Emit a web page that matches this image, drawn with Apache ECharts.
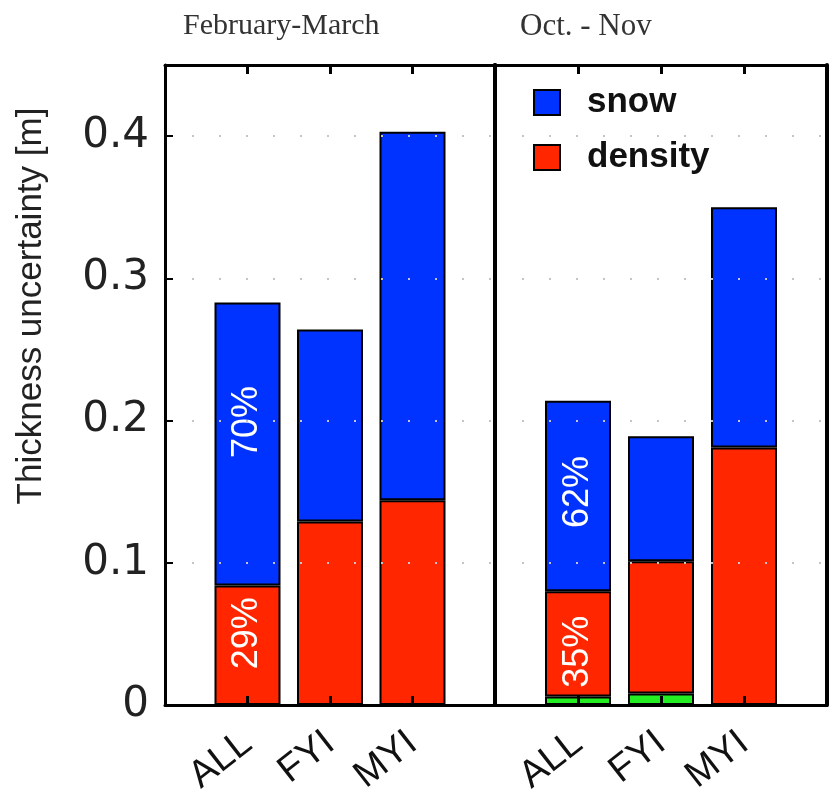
<!DOCTYPE html>
<html>
<head>
<meta charset="utf-8">
<script src="https://cdn.jsdelivr.net/npm/echarts@6/dist/echarts.min.js"></script>
<style>
html,body{margin:0;padding:0;background:#fff;}
#chart{width:839px;height:798px;}
</style>
</head>
<body>
<div id="chart"></div>
<script>
// ---- data ----
const categories = ['ALL', 'FYI', 'MYI'];
const periods = ['February-March', 'Oct. - Nov'];
const yTicks = [0, 0.1, 0.2, 0.3, 0.4];
// February-March segments (m)
const densityFM = [0.084, 0.129, 0.144];
const snowFM = [0.199, 0.135, 0.259];
// Oct.-Nov segments (m)
const otherON = [0.006, 0.008, 0];
const densityON = [0.074, 0.093, 0.181];
const snowON = [0.134, 0.088, 0.169];
// percentage annotations (ALL column)
const pctFM = { snow: '70%', density: '29%' };
const pctON = { snow: '62%', density: '35%' };

// ---- helpers ----
const axisCats = [''].concat(categories, ['']);
const BLUE = '#0033FF', RED = '#FF2600', GREEN = '#22EE22';

function pad(arr, labelIdx, labelText, shift) {
  const out = ['-'];
  arr.forEach((v, i) => {
    if (!v) { out.push('-'); return; }
    if (i === labelIdx && labelText) {
      out.push({
        value: v,
        label: {
          show: true, formatter: labelText, rotate: 90, position: 'inside',
          color: '#fff', fontSize: 36, fontFamily: 'Liberation Sans',
          offset: [shift || 0, 0]
        }
      });
    } else out.push(v);
  });
  out.push('-');
  return out;
}

const chart = echarts.init(document.getElementById('chart'), null, { renderer: 'canvas' });

const grids = [
  { left: 165, top: 65, width: 330, height: 640 },
  { left: 495, top: 65, width: 332, height: 640 }
];

const xAxes = [], yAxes = [];
[0, 1].forEach(g => {
  xAxes.push({
    type: 'category', gridIndex: g, data: axisCats, boundaryGap: false, position: 'bottom', z: 10,
    axisLine: { show: true, onZero: false, lineStyle: { color: '#000', width: 3 } },
    axisTick: { show: true, inside: true, interval: 0, length: 9, lineStyle: { color: '#000', width: 3 } },
    axisLabel: { show: true, rotate: 38, margin: 34, fontSize: 38, fontFamily: 'Liberation Sans', color: '#111', interval: 0 },
    splitLine: { show: false }
  });
  xAxes.push({
    type: 'category', gridIndex: g, data: axisCats, boundaryGap: false, position: 'top', z: 10,
    axisLine: { show: true, onZero: false, lineStyle: { color: '#000', width: 3 } },
    axisTick: { show: true, inside: true, interval: 0, length: 9, lineStyle: { color: '#000', width: 3 } },
    axisLabel: { show: false },
    splitLine: { show: false }
  });
  yAxes.push({
    type: 'value', gridIndex: g, min: 0, max: 0.45, interval: 0.1, position: 'left', z: 10,
    axisLine: { show: true, onZero: false, lineStyle: { color: '#000', width: g === 0 ? 3 : 4 } },
    axisTick: { show: g === 0, inside: true, length: 8, lineStyle: { color: '#000', width: 2 } },
    axisLabel: {
      show: g === 0, margin: 16, fontSize: 42, fontFamily: 'DejaVu Sans', color: '#222',
      formatter: v => (yTicks.some(t => Math.abs(t - v) < 1e-9) ? (v === 0 ? '0' : v.toFixed(1)) : '')
    },
    splitLine: { show: true, lineStyle: { color: '#c4c4c4', width: 2, type: [2, 25] } },
    name: g === 0 ? 'Thickness uncertainty [m]' : '',
    nameLocation: 'middle', nameGap: 116,
    nameTextStyle: { fontSize: 35, fontFamily: 'Liberation Sans', color: '#222', padding: [0, 0, 0, 158] }
  });
  yAxes.push({
    type: 'value', gridIndex: g, min: 0, max: 0.45, interval: 0.1, position: 'right', z: 10,
    axisLine: { show: true, onZero: false, lineStyle: { color: '#000', width: 4 } },
    axisTick: { show: false }, axisLabel: { show: false }, splitLine: { show: false }
  });
});

const barBase = { type: 'bar', barWidth: 66 };

const series = [
  Object.assign({}, barBase, { name: 'density', stack: 'fm', xAxisIndex: 0, yAxisIndex: 0,
    itemStyle: { color: RED, borderColor: '#000', borderWidth: 2 },
    data: pad(densityFM, 0, pctFM.density, 12) }),
  Object.assign({}, barBase, { name: 'snow', stack: 'fm', xAxisIndex: 0, yAxisIndex: 0,
    itemStyle: { color: BLUE, borderColor: '#000', borderWidth: 2 },
    data: pad(snowFM, 0, pctFM.snow, 22) }),
  Object.assign({}, barBase, { name: 'other', stack: 'on', xAxisIndex: 2, yAxisIndex: 2,
    itemStyle: { color: GREEN, borderColor: '#000', borderWidth: 2 },
    data: pad(otherON) }),
  Object.assign({}, barBase, { name: 'density', stack: 'on', xAxisIndex: 2, yAxisIndex: 2,
    itemStyle: { color: RED, borderColor: '#000', borderWidth: 2 },
    data: pad(densityON, 0, pctON.density, -8) }),
  Object.assign({}, barBase, { name: 'snow', stack: 'on', xAxisIndex: 2, yAxisIndex: 2,
    itemStyle: { color: BLUE, borderColor: '#000', borderWidth: 2 },
    data: pad(snowON, 0, pctON.snow, 4) })
];

chart.setOption({
  animation: false,
  backgroundColor: '#fff',
  title: [
    { text: periods[0], left: 178, top: 6, textStyle: { fontFamily: 'Liberation Serif', fontWeight: 'normal', fontSize: 30, color: '#333' } },
    { text: periods[1], left: 515, top: 6, textStyle: { fontFamily: 'Liberation Serif', fontWeight: 'normal', fontSize: 31, color: '#333' } }
  ],
  legend: {
    data: ['snow', 'density'], orient: 'vertical', left: 520, top: 70,
    padding: [15, 12, 12, 13], backgroundColor: '#fff',
    itemWidth: 26, itemHeight: 25, itemGap: 20, icon: 'rect',
    textStyle: { fontSize: 35, fontWeight: 'bold', fontFamily: 'Liberation Sans', color: '#111', lineHeight: 30, padding: [0, 0, 0, 22] }
  },
  grid: grids,
  xAxis: xAxes,
  yAxis: yAxes,
  series: series
});
</script>
</body>
</html>
